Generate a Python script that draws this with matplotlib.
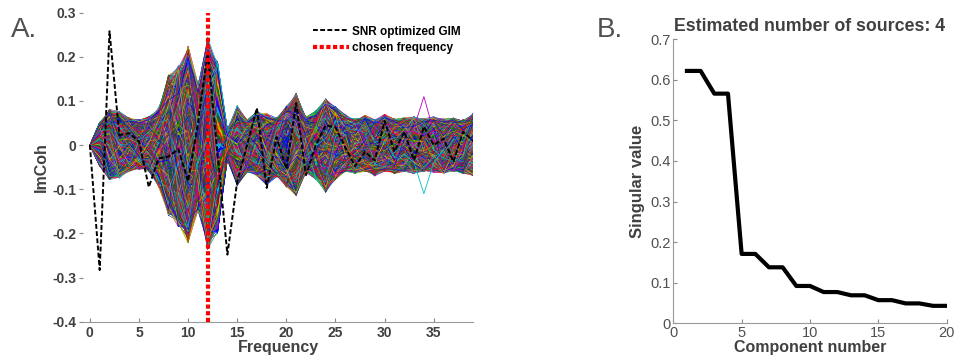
import numpy as np
import matplotlib
matplotlib.use("Agg")
import matplotlib.pyplot as plt
from matplotlib.collections import LineCollection
from matplotlib.ticker import FuncFormatter

plt.rcParams['font.family'] = ['Liberation Sans', 'DejaVu Sans']

# ---------------- data: panel A ----------------
freq = list(range(40))
gim = [0.0, -0.283, 0.258, 0.023, 0.027, 0.008, -0.095, -0.03, -0.026, -0.009,
       -0.082, 0.05, 0.21, -0.02, -0.248, -0.082, 0.0, 0.084, -0.097, 0.018,
       -0.054, 0.095, -0.068, 0.0, 0.045, 0.04, -0.005, -0.048, -0.015, -0.035,
       0.055, -0.015, 0.03, -0.035, 0.042, 0.0, 0.015, -0.038, 0.03, 0.01]
band_upper = [0.0, 0.052, 0.082, 0.077, 0.062, 0.058, 0.065, 0.085, 0.16, 0.18,
              0.225, 0.14, 0.245, 0.19, 0.037, 0.09, 0.058, 0.078, 0.072, 0.062,
              0.088, 0.118, 0.065, 0.078, 0.105, 0.088, 0.07, 0.06, 0.068, 0.058,
              0.07, 0.06, 0.062, 0.065, 0.06, 0.065, 0.06, 0.062, 0.058, 0.072]
band_lower = [0.0, -0.048, -0.079, -0.075, -0.06, -0.055, -0.06, -0.095, -0.16, -0.185,
              -0.222, -0.15, -0.238, -0.2, -0.035, -0.092, -0.062, -0.07, -0.09, -0.072,
              -0.095, -0.115, -0.062, -0.078, -0.108, -0.078, -0.06, -0.065, -0.06, -0.07,
              -0.06, -0.065, -0.06, -0.065, -0.06, -0.062, -0.065, -0.06, -0.065, -0.07]
outlier_x = [32, 33, 34, 35, 36]
outlier_magenta = [0.02, 0.04, 0.11, 0.03, 0.0]
outlier_cyan = [-0.02, -0.04, -0.11, -0.04, -0.01]
chosen_freq = 12

# ---------------- data: panel B ----------------
component = list(range(1, 21))
singular = [0.622, 0.622, 0.566, 0.566, 0.171, 0.171, 0.138, 0.138, 0.092, 0.092,
            0.077, 0.077, 0.069, 0.069, 0.057, 0.057, 0.049, 0.049, 0.043, 0.043]
n_sources = 4

# ---------------- figure ----------------
fig = plt.figure(figsize=(9.55, 3.63), dpi=100)
gray = '#404040'

axA = fig.add_axes([0.0869, 0.1138, 0.4084, 0.8512])
f = np.array(freq, dtype=float)
up = np.array(band_upper)
lo = np.array(band_lower)

# band of many thin traces spanning the envelope (positions cycle across the band)
colors = [(0, 0, 1), (0, 0.5, 0), (1, 0, 0), (0, 0.75, 0.75),
          (0.75, 0, 0.75), (0.75, 0.75, 0), (0.25, 0.25, 0.25)]
N = 900
alt = np.array([1.0 if k % 2 == 0 else -1.0 for k in freq])
alt3 = np.array([(k % 3) - 1.0 for k in freq])
segs, cols = [], []
for i in range(N):
    b = i / N
    s = (((i * 7) % 13) - 6) / 20.0
    j = (((i * 5) % 11) - 5) / 35.0
    k = (((i * 3) % 7) - 3) / 25.0
    pos = (b + s * f + j * alt + k * alt3) % 2.0
    w = np.where(pos > 1, 2 - pos, pos)
    y = lo + w * (up - lo)
    segs.append(np.column_stack([f, y]))
    cols.append(colors[(i * 3) % len(colors)])
lc = LineCollection(segs, colors=cols, linewidths=0.4, zorder=1)
axA.add_collection(lc)
axA.plot(outlier_x, outlier_magenta, color=(0.75, 0, 0.75), lw=0.6, zorder=1)
axA.plot(outlier_x, outlier_cyan, color=(0, 0.75, 0.75), lw=0.6, zorder=1)

axA.plot(freq, gim, color='black', lw=1.4, linestyle=(0, (2.5, 1.2)), zorder=3,
         label='SNR optimized GIM')
axA.plot([chosen_freq, chosen_freq], [-0.4, 0.3], color='#ff0000', lw=3,
         linestyle=(0, (1, 0.6)), zorder=4, label='chosen frequency')

axA.set_xlim(-0.7, 39)
axA.set_ylim(-0.4, 0.3)
axA.set_xticks([0, 5, 10, 15, 20, 25, 30, 35])
axA.set_yticks([-0.4, -0.3, -0.2, -0.1, 0, 0.1, 0.2, 0.3])
axA.yaxis.set_major_formatter(FuncFormatter(lambda v, p: '0' if abs(v) < 1e-9 else ('%g' % v)))
for sp in ['top', 'right', 'left']:
    axA.spines[sp].set_visible(False)
axA.spines['bottom'].set_color('#999999')
axA.tick_params(axis='x', direction='in', length=3, color='#888888', labelsize=10,
                labelcolor=gray, pad=3)
axA.tick_params(axis='y', direction='out', length=3, color='#888888', labelsize=10,
                labelcolor=gray, pad=2)
for lab in axA.get_xticklabels() + axA.get_yticklabels():
    lab.set_fontweight('bold')
axA.set_xlabel('Frequency', fontsize=11.5, fontweight='bold', color=gray, labelpad=0)
axA.set_ylabel('ImCoh', fontsize=11.5, fontweight='bold', color=gray, labelpad=2)
leg = axA.legend(loc='upper right', frameon=False, fontsize=8.5, handlelength=3.0,
                 handletextpad=0.3, borderaxespad=0.3, labelspacing=0.35,
                 bbox_to_anchor=(0.99, 0.985))
for t in leg.get_texts():
    t.set_fontweight('bold')

fig.text(0.011, 0.898, 'A.', fontsize=20, color='#505050')

# ---------------- panel B ----------------
axB = fig.add_axes([0.705, 0.1094, 0.2863, 0.7824])
axB.plot(component, singular, color='black', lw=3)
axB.set_xlim(0, 20)
axB.set_ylim(0, 0.7)
axB.set_xticks([0, 5, 10, 15, 20])
axB.set_yticks([0, 0.1, 0.2, 0.3, 0.4, 0.5, 0.6, 0.7])
axB.yaxis.set_major_formatter(FuncFormatter(lambda v, p: '0' if abs(v) < 1e-9 else ('%.1f' % v)))
for sp in ['top', 'right']:
    axB.spines[sp].set_visible(False)
for sp in ['left', 'bottom']:
    axB.spines[sp].set_color('#999999')
axB.tick_params(direction='in', length=3, color='#888888', labelsize=10.5,
                labelcolor='#505050', pad=2)
axB.set_xlabel('Component number', fontsize=11.5, fontweight='bold', color=gray, labelpad=0)
axB.set_ylabel('Singular value', fontsize=12, fontweight='bold', color=gray, labelpad=4)
axB.set_title('Estimated number of sources: %d' % n_sources, fontsize=12.8,
              fontweight='bold', color=gray, pad=6)
fig.text(0.625, 0.898, 'B.', fontsize=20, color='#505050')

fig.savefig('out.png', dpi=100)
